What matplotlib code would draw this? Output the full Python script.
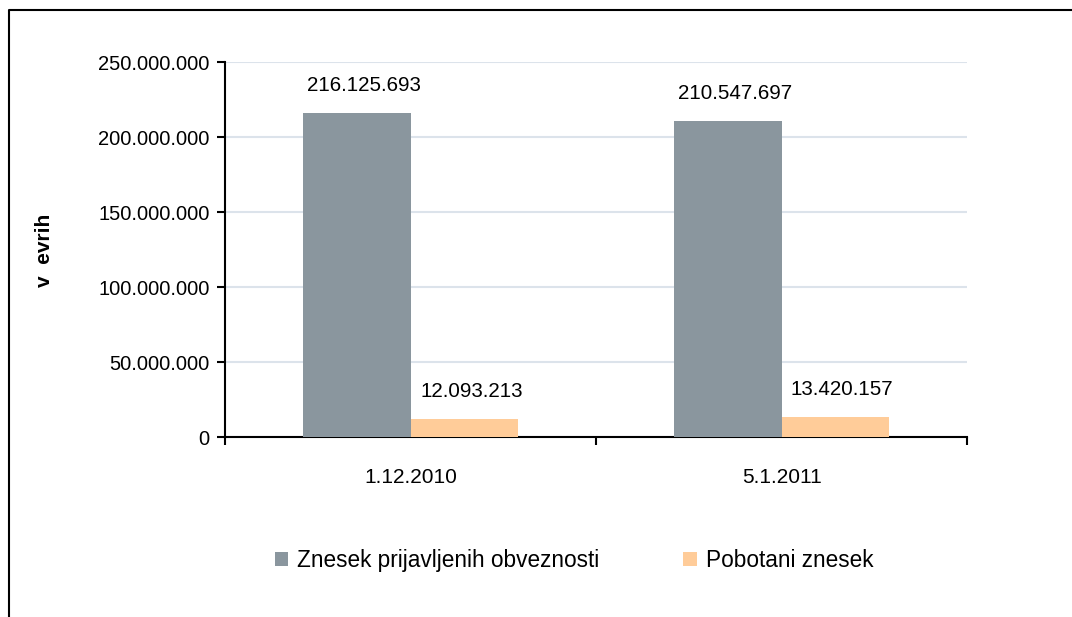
import numpy as np
import matplotlib.pyplot as plt
from matplotlib.lines import Line2D
from matplotlib.ticker import FuncFormatter

plt.rcParams['font.family'] = ['Liberation Sans', 'DejaVu Sans']

dates = ["1.12.2010", "5.1.2011"]
series_names = ["Znesek prijavljenih obveznosti", "Pobotani znesek"]
prijavljeno = [216125693, 210547697]
pobotano = [12093213, 13420157]
colors = ["#8a969e", "#ffcc99"]


def dots(v, pos=None):
    return f"{int(v):,}".replace(",", ".")


fig = plt.figure(figsize=(10.72, 6.17), dpi=100)
ax = fig.add_axes([0.2099, 0.2917, 0.6922, 0.6078])

x = np.arange(len(dates))
w = 0.29
b1 = ax.bar(x - w / 2, prijavljeno, w, color=colors[0], label=series_names[0], zorder=3)
b2 = ax.bar(x + w / 2, pobotano, w, color=colors[1], label=series_names[1], zorder=3)

for bars, vals in ((b1, prijavljeno), (b2, pobotano)):
    for r, v in zip(bars, vals):
        ax.annotate(dots(v), (r.get_x() + r.get_width() / 2, v), xytext=(5, 20),
                    textcoords="offset points", ha="center", va="center", fontsize=14.8)

ax.set_xlim(-0.5, 1.5)
ax.set_ylim(0, 250000000)
ax.set_yticks(np.arange(0, 250000001, 50000000))
ax.yaxis.set_major_formatter(FuncFormatter(dots))
ax.yaxis.grid(True, color="#dce3eb", linewidth=1.5, zorder=0)
ax.set_axisbelow(True)

ax.set_xticks(x)
ax.set_xticklabels(dates)
ax.set_xticks([-0.5, 0.5, 1.5], minor=True)
ax.tick_params(axis="x", which="major", length=0, pad=22, labelsize=15)
ax.tick_params(axis="x", which="minor", length=6, width=1.5, direction="out")
ax.tick_params(axis="y", length=6, width=1.5, direction="out", labelsize=14.5, pad=5)

for s in ("top", "right"):
    ax.spines[s].set_visible(False)
for s in ("left", "bottom"):
    ax.spines[s].set_linewidth(1.5)

fig.text(45 / 1072, 1 - 250 / 617, "v  evrih", rotation=90, ha="center", va="center",
         fontsize=15, fontweight="bold")

fig.legend(loc="center", bbox_to_anchor=(574 / 1072, 0.092), ncol=2, frameon=False,
           fontsize=16.3, handlelength=0.6, handleheight=0.6, handletextpad=0.4,
           columnspacing=3.7)

# frame around the chart (cut at the right and bottom)
fig.add_artist(Line2D([9 / 1072, 9 / 1072, 1.0], [0.0, 1 - 10 / 617, 1 - 10 / 617],
                      transform=fig.transFigure, color="black", linewidth=1.5))

fig.savefig("out.png", dpi=100)
